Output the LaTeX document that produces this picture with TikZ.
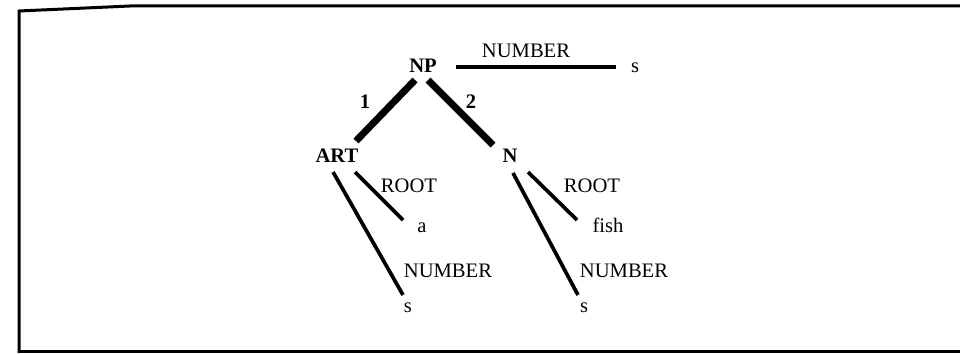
\documentclass[tikz,border=0pt]{standalone}
\usepackage{fontspec}
\setmainfont{Liberation Serif}
\begin{document}
\begin{tikzpicture}[x=1pt,y=-1pt,
  lbl/.style={inner sep=0pt,anchor=base,font=\fontsize{20.6}{24}\selectfont},
  blbl/.style={lbl,font=\fontsize{20.6}{24}\selectfont\bfseries},
  thickarc/.style={line width=7pt,line cap=butt},
  thinarc/.style={line width=3.7pt,line cap=butt},
  frameline/.style={line width=3pt}]
\useasboundingbox (0,0) rectangle (960,353);
% frame
\draw[frameline] (19,353) -- (19,11) -- (130,6) -- (960,6);
\draw[frameline] (19,351) -- (960,351);
% nodes
\node[blbl] (NP) at (423,72) {NP};
\node[lbl] (numtop) at (526,58) {NUMBER};
\node[lbl] (s0) at (635,73) {s};
\node[blbl] (one) at (365,108) {1};
\node[blbl] (two) at (471,108) {2};
\node[blbl] (ART) at (337,162) {ART};
\node[blbl] (N) at (510,162) {N};
\node[lbl] (root1) at (409,192) {ROOT};
\node[lbl] (a) at (422,232) {a};
\node[lbl] (num1) at (448,277) {NUMBER};
\node[lbl] (s1) at (408,312) {s};
\node[lbl] (root2) at (592,192) {ROOT};
\node[lbl] (fish) at (608,232) {fish};
\node[lbl] (num2) at (624,277) {NUMBER};
\node[lbl] (s2) at (584,312) {s};
% connectors
\draw[line width=3.5pt] ([shift={(33,-5)}]NP.base) -- ([shift={(-19,-6)}]s0.base);
\draw[thickarc] ([shift={(-8,8)}]NP.base) -- ([shift={(19,-21)}]ART.base);
\draw[thickarc] ([shift={(5,8)}]NP.base) -- ([shift={(-17,-17)}]N.base);
\draw[thinarc] ([shift={(-4,10)}]ART.base) -- ([shift={(-5,-17)}]s1.base);
\draw[thinarc] ([shift={(18,10)}]ART.base) -- ([shift={(-19,-12)}]a.base);
\draw[thinarc] ([shift={(3,11)}]N.base) -- ([shift={(-6,-17)}]s2.base);
\draw[thinarc] ([shift={(18,10)}]N.base) -- ([shift={(-31,-12)}]fish.base);
\end{tikzpicture}
\end{document}
